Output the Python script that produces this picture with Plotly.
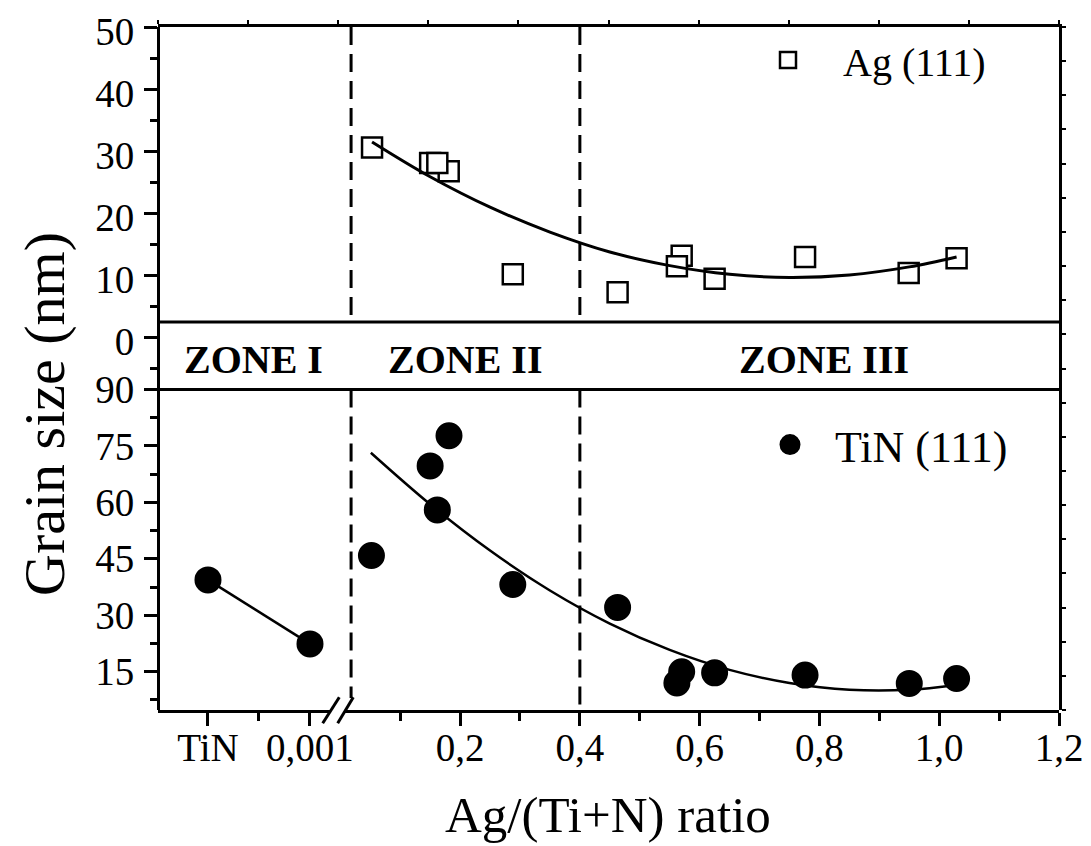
import plotly.graph_objects as go

W, H = 1091, 846

# ---------------- data ----------------
# Ag (111) grain size, upper panel
ag_x = [0.053, 0.150, 0.181, 0.162, 0.288, 0.463, 0.570, 0.562, 0.625, 0.776, 0.949, 1.029]
ag_y = [30.6, 28.1, 26.8, 28.1, 10.2, 7.3, 13.2, 11.5, 9.5, 13.0, 10.4, 12.8]
# Ag fit curve
ag_fit_x = [0.053, 0.15, 0.25, 0.35, 0.45, 0.55, 0.65, 0.75, 0.85, 0.95, 1.029]
ag_fit_y = [31.5, 25.9, 21.0, 17.0, 13.8, 11.6, 10.2, 9.7, 10.1, 11.4, 13.0]

# TiN (111) grain size, left (broken) segment
tin_left_x = [0.0, 0.001]
tin_left_y = [39.4, 22.4]
# TiN (111) grain size, right segment
tin_x = [0.052, 0.150, 0.162, 0.1815, 0.288, 0.463, 0.570, 0.562, 0.625, 0.776, 0.950, 1.029]
tin_y = [45.9, 69.7, 58.0, 77.7, 38.2, 32.1, 15.0, 12.0, 14.7, 14.1, 11.9, 13.2]
# TiN fit curve
tin_fit_x = [0.051, 0.15, 0.25, 0.35, 0.45, 0.55, 0.65, 0.75, 0.85, 0.95, 1.029]
tin_fit_y = [73.2, 59.5, 47.2, 36.6, 27.8, 20.8, 15.5, 12.0, 10.2, 10.2, 11.5]

# zone boundaries (Ag/(Ti+N) ratio) and labels
zone_bounds = [0.018, 0.4]
zone_labels = ["ZONE I", "ZONE II", "ZONE III"]

# tick labels
left_tickvals = [0.0, 0.001]
left_ticktext = ["TiN", "0,001"]
right_tickvals = [0.2, 0.4, 0.6, 0.8, 1.0, 1.2]
right_ticktext = ["0,2", "0,4", "0,6", "0,8", "1,0", "1,2"]
top_tickvals = [0, 10, 20, 30, 40, 50]
bot_tickvals = [15, 30, 45, 60, 75, 90]

# ---------------- layout helpers ----------------
OFF = 8  # page offset of the figure inside the browser window

def px(x):
    return (x - OFF) / W

def py(y):
    return 1 - (y - OFF) / H

FONT = "Liberation Serif"
LW = 3

X_L0, X_BRK_L, X_BRK_R, X_R1 = 158, 331, 345, 1059
Y_TOP, Y_BAND_TOP, Y_MID, Y_BOT = 27, 322, 389.5, 710

fig = go.Figure()

fig.add_trace(go.Scatter(
    x=ag_x, y=ag_y, xaxis="x2", yaxis="y2", mode="markers", name="Ag (111)",
    marker=dict(symbol="square", size=20, color="white", line=dict(color="black", width=2.5)),
    legend="legend"))
fig.add_trace(go.Scatter(
    x=ag_fit_x, y=ag_fit_y, xaxis="x2", yaxis="y2", mode="lines", showlegend=False,
    line=dict(color="black", width=3, shape="spline")))

fig.add_trace(go.Scatter(
    x=tin_left_x, y=tin_left_y, xaxis="x", yaxis="y", mode="lines+markers", showlegend=False,
    marker=dict(symbol="circle", size=22, color="black", line=dict(color="black", width=5)),
    line=dict(color="black", width=2.5)))
fig.add_trace(go.Scatter(
    x=tin_x, y=tin_y, xaxis="x2", yaxis="y", mode="markers", name="TiN (111)",
    marker=dict(symbol="circle", size=22, color="black", line=dict(color="black", width=5)),
    legend="legend2"))
fig.add_trace(go.Scatter(
    x=tin_fit_x, y=tin_fit_y, xaxis="x2", yaxis="y", mode="lines", showlegend=False,
    line=dict(color="black", width=2.5, shape="spline")))

# frame (top / right) axes with small ticks
fig.add_trace(go.Scatter(x=[None], y=[None], xaxis="x3", yaxis="y3", showlegend=False,
                         hoverinfo="skip"))

tickfont = dict(family=FONT, size=39, color="black")
common = dict(showgrid=False, zeroline=False, showline=True, linecolor="black",
              linewidth=LW, ticks="outside", tickcolor="black", tickwidth=2.5,
              ticklen=13, tickfont=tickfont, automargin=False, ticklabeloverflow="allow")

fig.update_layout(
    width=W, height=H,
    margin=dict(l=0, r=0, t=0, b=0, pad=0, autoexpand=False),
    paper_bgcolor="white", plot_bgcolor="rgba(0,0,0,0)",
    xaxis=dict(domain=[px(X_L0), px(X_BRK_L)], range=[-0.00049, 0.001206],
               anchor="y", tickmode="array", tickvals=left_tickvals, ticktext=left_ticktext,
               minor=dict(dtick=0.0005, tick0=0, ticks="outside", ticklen=8,
                          tickwidth=2.5, tickcolor="black"),
               ticklabelstandoff=-12, **common),
    xaxis2=dict(domain=[px(X_BRK_R), px(X_R1)], range=[0.00785, 1.2],
                anchor="y", tickmode="array", tickvals=right_tickvals, ticktext=right_ticktext,
                minor=dict(dtick=0.1, tick0=0, ticks="outside", ticklen=8,
                           tickwidth=2.5, tickcolor="black"),
                ticklabelstandoff=-12, **common),
    yaxis=dict(domain=[py(Y_BOT), py(Y_MID)], range=[4.83, 90],
               anchor="free", position=px(X_L0), tickmode="array", tickvals=bot_tickvals,
               minor=dict(dtick=7.5, tick0=0, ticks="outside", ticklen=7,
                          tickwidth=2.5, tickcolor="black"),
               ticklabelstandoff=2, **common),
    yaxis2=dict(domain=[py(Y_MID), py(Y_TOP)], range=[-8.33, 50],
                anchor="free", position=px(X_L0), tickmode="array", tickvals=top_tickvals,
                minor=dict(dtick=5, tick0=0, ticks="outside", ticklen=7,
                           tickwidth=2.5, tickcolor="black"),
                ticklabelstandoff=2, ticklabelshift=4, **common),
    xaxis3=dict(domain=[px(X_L0), px(X_R1)], range=[0, 10], dtick=1, side="top",
                anchor="y3", showgrid=False, zeroline=False, showline=True,
                linecolor="black", linewidth=LW, ticks="outside", ticklen=4,
                tickwidth=2, tickcolor="black", showticklabels=False, automargin=False),
    yaxis3=dict(domain=[py(Y_BOT), py(Y_TOP)], range=[0, 20], dtick=1, side="right",
                anchor="x3", showgrid=False, zeroline=False, showline=True,
                linecolor="black", linewidth=LW, ticks="outside", ticklen=4,
                tickwidth=2, tickcolor="black", showticklabels=False, automargin=False),
    legend=dict(x=px(733), y=py(60), xanchor="left", yanchor="middle",
                itemwidth=100, bgcolor="rgba(0,0,0,0)", borderwidth=0,
                font=dict(family=FONT, size=40, color="black")),
    legend2=dict(x=px(745), y=py(445), xanchor="left", yanchor="middle",
                 itemwidth=80, bgcolor="rgba(0,0,0,0)", borderwidth=0,
                 font=dict(family=FONT, size=44, color="black")),
    showlegend=True,
)

shapes = []
# band lines
for yy in (Y_BAND_TOP, Y_MID):
    shapes.append(dict(type="line", xref="paper", yref="paper",
                       x0=px(X_L0), x1=px(X_R1), y0=py(yy), y1=py(yy),
                       line=dict(color="black", width=LW)))
# zone boundaries (dashed), upper and lower panel
for i, zb in enumerate(zone_bounds):
    low_end = 698 if i == 0 else Y_BOT
    for (ya, yb) in ((Y_TOP, Y_BAND_TOP), (Y_MID, low_end)):
        shapes.append(dict(type="line", xref="x2", yref="paper", x0=zb, x1=zb,
                           y0=py(ya), y1=py(yb),
                           line=dict(color="black", width=3, dash="18px,9px")))
# axis break marks
for (xa, ya, xb, yb) in ((322.7, 723.3, 339.3, 697.3), (337.7, 723.3, 353.3, 697.3)):
    shapes.append(dict(type="line", xref="paper", yref="paper",
                       x0=px(xa), y0=py(ya), x1=px(xb), y1=py(yb),
                       line=dict(color="black", width=3)))
fig.update_layout(shapes=shapes)

ann = []
zone_pos = [(253, 360), (465, 360), (824, 360)]
for lab, (zx, zy) in zip(zone_labels, zone_pos):
    ann.append(dict(text="<b>%s</b>" % lab, xref="paper", yref="paper",
                    x=px(zx), y=py(zy), showarrow=False, xanchor="center", yanchor="middle",
                    font=dict(family=FONT, size=40, color="black")))
ann.append(dict(text="Ag/(Ti+N) ratio", xref="paper", yref="paper", x=px(608), y=py(815),
                showarrow=False, xanchor="center", yanchor="middle",
                font=dict(family=FONT, size=51, color="black")))
ann.append(dict(text="Grain size (nm)", xref="paper", yref="paper", x=px(44), y=py(414),
                showarrow=False, xanchor="center", yanchor="middle", textangle=-90,
                font=dict(family=FONT, size=58, color="black")))
fig.update_layout(annotations=ann)

fig.write_html("out.html")
